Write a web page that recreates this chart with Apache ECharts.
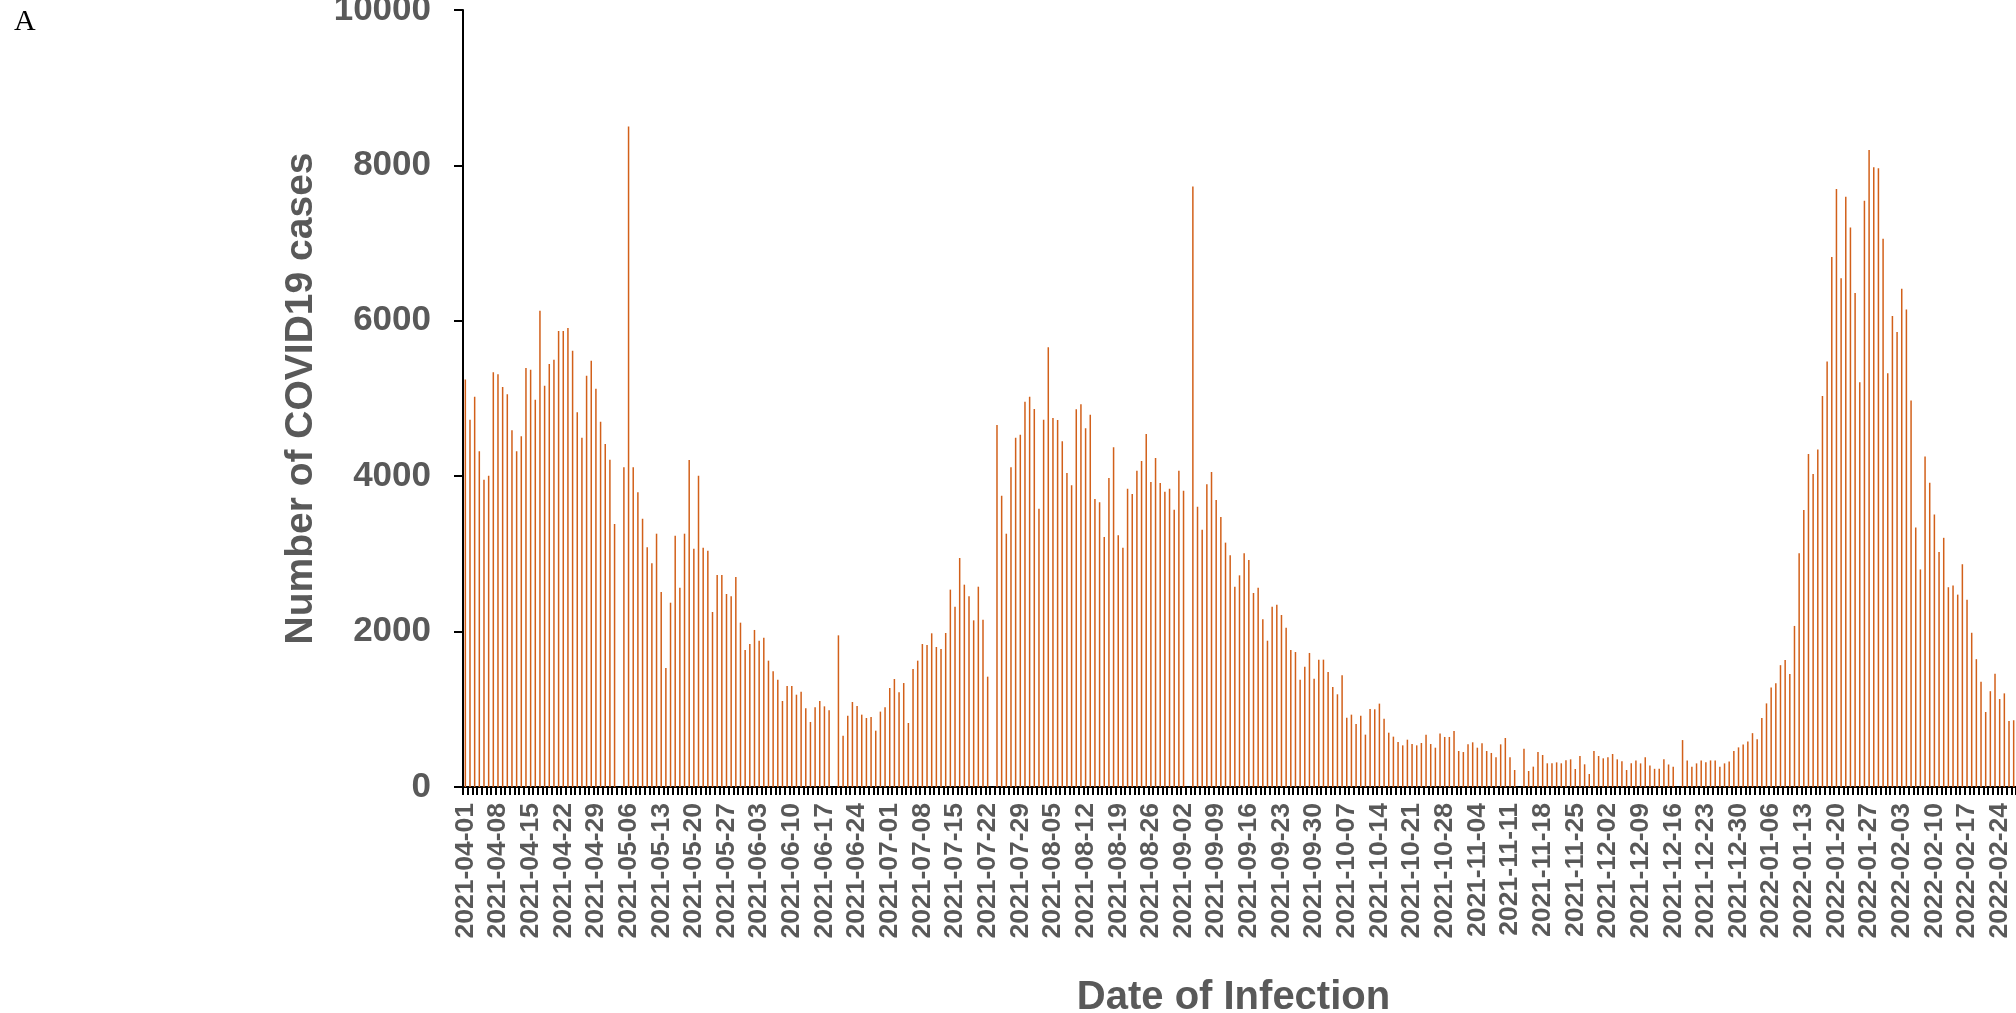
<!DOCTYPE html>
<html>
<head>
<meta charset="utf-8">
<title>COVID19 cases by date of infection</title>
<script src="https://cdn.jsdelivr.net/npm/echarts@6/dist/echarts.min.js"></script>
<style>
  html, body { margin: 0; padding: 0; background: #fff; }
  #chart { width: 2016px; height: 1013px; }
</style>
</head>
<body>
<div id="chart"></div>
<script>
// daily cases, one value per day starting 2021-04-01 (0 = no bar that day)
const startDate = '2021-04-01';
const cases = [
  5243, 4728, 5024, 4320, 3955, 4007, 5337, 5311, 5148, 5054, 4590, 4320, 4513, 5393,
  5371, 4985, 6130, 5165, 5444, 5500, 5869, 5869, 5907, 5616, 4822, 4496, 5294, 5487,
  5127, 4702, 4414, 4213, 3385, 0, 4114, 8500, 4114, 3792, 3453, 3085, 2879, 3260,
  2510, 1532, 2372, 3235, 2565, 3260, 4208, 3067, 4007, 3080, 3042, 2252, 2728, 2728,
  2484, 2454, 2703, 2115, 1763, 1840, 2021, 1883, 1922, 1626, 1489, 1381, 1107, 1300,
  1300, 1188, 1227, 1012, 837, 1025, 1107, 1038, 987, 0, 1952, 661, 918, 1094,
  1042, 931, 888, 901, 725, 970, 1025, 1274, 1390, 1218, 1338, 824, 1519, 1626,
  1840, 1828, 1978, 1802, 1776, 1982, 2540, 2321, 2947, 2604, 2454, 2145, 2578, 2154,
  1420, 0, 4659, 3749, 3260, 4114, 4496, 4535, 4959, 5024, 4865, 3582, 4728, 5659,
  4749, 4723, 4449, 4041, 3882, 4861, 4925, 4616, 4792, 3707, 3664, 3218, 3977, 4372,
  3239, 3080, 3840, 3771, 4071, 4196, 4543, 3925, 4234, 3912, 3801, 3840, 3569, 4071,
  3814, 0, 7730, 3608, 3312, 3895, 4054, 3694, 3475, 3145, 2982, 2578, 2724, 3007,
  2921, 2497, 2565, 2158, 1883, 2321, 2347, 2214, 2051, 1763, 1737, 1381, 1549, 1725,
  1394, 1639, 1639, 1480, 1287, 1193, 1437, 892, 931, 811, 918, 674, 1004, 1000,
  1073, 879, 699, 648, 579, 536, 609, 553, 536, 566, 674, 553, 506, 690,
  644, 644, 721, 463, 450, 549, 575, 506, 562, 463, 438, 382, 549, 631,
  382, 219, 0, 493, 206, 262, 450, 412, 305, 305, 317, 305, 343, 356,
  232, 399, 292, 167, 463, 399, 369, 382, 425, 356, 330, 219,
  305, 342, 304, 384, 276, 234, 234, 356, 290, 262, 0, 604, 342, 262,
  304, 342, 318, 342, 342, 262, 304, 328, 463, 510, 548, 585, 693, 613,
  889, 1076, 1282, 1334, 1568, 1633, 1455, 2073, 3009, 3566, 4287, 4029, 4343, 5031,
  5477, 6821, 7696, 6547, 7596, 7200, 6358, 5209, 7546, 8198, 7975, 7964, 7055, 5326,
  6062, 5856, 6414, 6146, 4975, 3341, 2800, 4255, 3915, 3508, 3023, 3207, 2571, 2593,
  2476, 2867, 2409, 1985, 1645, 1355, 965, 1233, 1456, 1132, 1205, 848, 859
];
const yMax = 10000;
const yStep = 2000;
const labelEvery = 7;

// one category per day
const dates = [];
const d0 = new Date(startDate + 'T00:00:00Z');
for (let i = 0; i < cases.length; i++) {
  const d = new Date(d0.getTime() + i * 86400000);
  dates.push(d.toISOString().slice(0, 10));
}

const gray = '#595959';
const font = 'Liberation Sans, Arial, sans-serif';

const chart = echarts.init(document.getElementById('chart'));
chart.setOption({
  animation: false,
  title: {
    text: 'A',
    left: 9,
    top: 2,
    textStyle: { fontFamily: 'Liberation Serif, Times New Roman, serif', fontWeight: 'normal', fontSize: 30, color: '#000' }
  },
  grid: { left: 463, right: 0, top: 10, bottom: 226, outerBoundsMode: 'none' },
  xAxis: {
    type: 'category',
    data: dates,
    name: 'Date of Infection',
    nameLocation: 'middle',
    nameGap: 191,
    nameTextStyle: { fontFamily: font, fontWeight: 'bold', fontSize: 40, color: gray, padding: [0, 12, 0, 0] },
    axisLine: { lineStyle: { color: '#000', width: 2 } },
    axisTick: { show: true, interval: 0, length: 8, lineStyle: { color: '#000', width: 2 } },
    axisLabel: {
      interval: labelEvery - 1,
      rotate: 90,
      margin: 16,
      fontFamily: font,
      fontWeight: 'bold',
      fontSize: 26.5,
      color: gray
    }
  },
  yAxis: {
    type: 'value',
    min: 0,
    max: yMax,
    interval: yStep,
    name: 'Number of COVID19 cases',
    nameLocation: 'middle',
    nameGap: 142,
    nameTextStyle: { fontFamily: font, fontWeight: 'bold', fontSize: 39, color: gray },
    axisLine: { show: true, lineStyle: { color: '#000', width: 2 } },
    axisTick: { show: true, length: 9, lineStyle: { color: '#000', width: 2 } },
    splitLine: { show: false },
    axisLabel: {
      margin: 32,
      fontFamily: font,
      fontWeight: 'bold',
      fontSize: 35,
      color: gray,
      formatter: v => String(v)
    }
  },
  series: [
    {
      name: 'Cases',
      type: 'bar',
      data: cases,
      barWidth: 1.5,
      itemStyle: { color: '#d2601a' }
    }
  ]
});
</script>
</body>
</html>
